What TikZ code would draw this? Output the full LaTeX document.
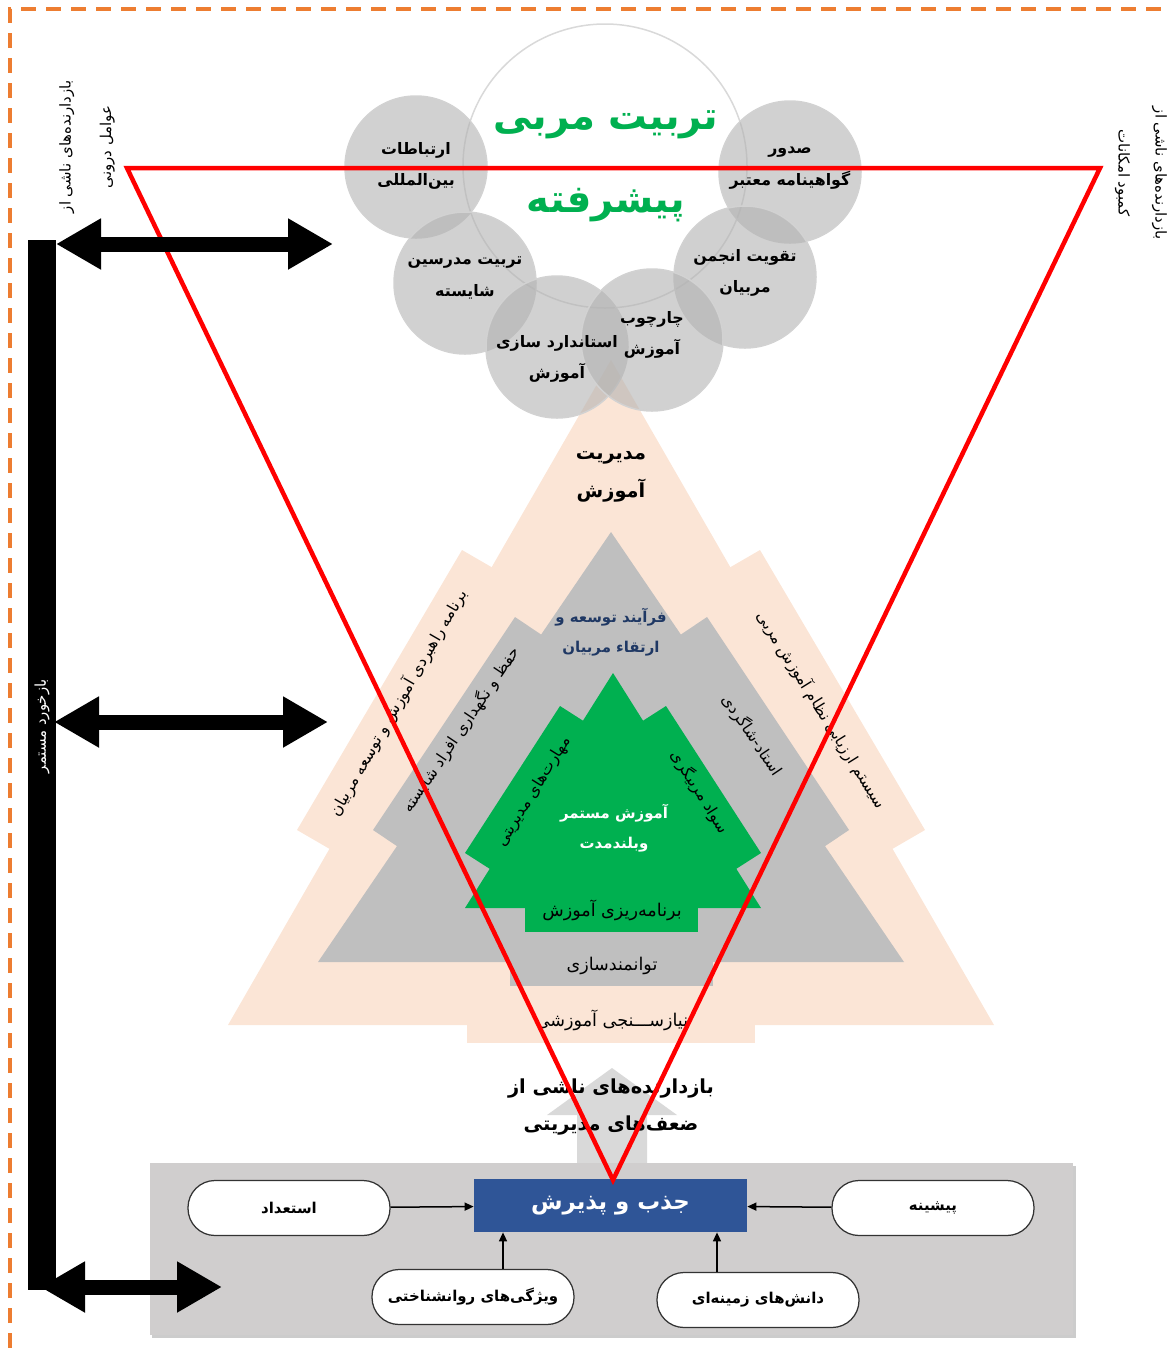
\documentclass[tikz,border=0pt]{standalone}
\usepackage{fontspec}
\usepackage{tikz}
\usetikzlibrary{arrows.meta,shadows}
\newfontfamily\fafont[Script=Arabic]{DejaVu Sans}
\TeXXeTstate=1
\newcommand{\fatxt}[1]{\beginR#1\endR}
\definecolor{peach}{HTML}{FBE5D6}
\definecolor{midgray}{HTML}{BFBFBF}
\definecolor{treegreen}{HTML}{00B050}
\definecolor{navy}{HTML}{1F3864}
\definecolor{panelgray}{HTML}{D0CECE}
\definecolor{boxblue}{HTML}{2F5597}
\definecolor{dashorange}{HTML}{ED7D31}

\begin{document}
\begin{tikzpicture}[x=0.2mm, y=-0.2mm,
    every node/.style = {inner sep=0pt, align=center, font=\fafont},
    bigbubble/.style = {circle, minimum size=56.8mm, fill=white, draw=gray!30, line width=0.3mm},
    bubble/.style = {circle, minimum size=28.4mm, fill=gray!60, fill opacity=0.6, draw=gray!35, line width=0.3mm},
    bubtext/.style = {font=\fafont\bfseries\fontsize{9}{18}\selectfont},
    titletext/.style = {font=\fafont\bfseries\fontsize{22}{47}\selectfont, text=treegreen},
    headtext/.style = {font=\fafont\bfseries\fontsize{11}{21.5}\selectfont},
    smallbold/.style = {font=\fafont\bfseries\fontsize{8.5}{17}\selectfont},
    leveltext/.style = {font=\fafont\fontsize{10}{12}\selectfont},
    bandtext/.style = {font=\fafont\fontsize{9}{11}\selectfont},
    sidetext/.style = {font=\fafont\fontsize{8.5}{#1}\selectfont},
    fbarrow/.style = {line width=3mm, {Triangle[length=9mm,width=9.6mm]}-{Triangle[length=9mm,width=9.6mm]}},
    linkarrow/.style = {line width=0.3mm, -{Triangle[length=1.8mm,width=1.6mm]}},
    panel/.style = {fill=panelgray, minimum width=184.6mm, minimum height=34.4mm,
                    drop shadow={shadow xshift=0.5mm, shadow yshift=-0.5mm, opacity=0.4}},
    bluebox/.style = {fill=boxblue, minimum width=54.6mm, minimum height=10.6mm, text=white,
                      font=\fafont\bfseries\fontsize{13}{15}\selectfont},
    pill/.style = {draw=black!80, line width=0.25mm, fill=white, rounded corners=5.4mm,
                   minimum width=40.4mm, minimum height=11mm,
                   font=\fafont\bfseries\fontsize{8.5}{10}\selectfont}]

  \useasboundingbox (0,0) rectangle (1168,1348);

  % outer frame
  \draw[dashorange, line width=0.8mm, dash pattern=on 3mm off 2mm] (10,1348) -- (10,9) -- (1168,9);

  % outer tree
  \fill[peach] (611,360) -- (228,1025) -- (994,1025) -- cycle;
  \fill[peach] (462,550) -- (297,830) -- (366,870) -- (531,590) -- cycle;
  \fill[peach] (760,550) -- (925,830) -- (856,870) -- (691,590) -- cycle;
  \fill[peach] (467,1020) rectangle (755,1043);

  % middle tree
  \fill[midgray] (611,532) -- (318,962) -- (904,962) -- cycle;
  \fill[midgray] (515,617) -- (373,830) -- (431,869) -- (573,656) -- cycle;
  \fill[midgray] (707,617) -- (849,830) -- (791,869) -- (649,656) -- cycle;
  \fill[midgray] (510,955) rectangle (713,986);

  % inner tree
  \fill[treegreen] (613,673) -- (465,908) -- (761,908) -- cycle;
  \fill[treegreen] (560,706) -- (465,853) -- (515,885) -- (610,738) -- cycle;
  \fill[treegreen] (666,706) -- (761,853) -- (711,885) -- (616,738) -- cycle;
  \fill[treegreen] (525,900) rectangle (698,932);

  % bubbles
  \node[bigbubble] (core) at (605,166) {};
  \node[bubble] (b1) at (416,167) {};
  \node[bubble] (b2) at (790,172) {};
  \node[bubble] (b3) at (465,283) {};
  \node[bubble] (b4) at (745,277) {};
  \node[bubble] (b5) at (557,347) {};
  \node[bubble] (b6) at (652,340) {};

  \node[titletext] at (606,166) {\fatxt{تربیت مربی}\\\fatxt{پیشرفته}};
  \node[bubtext] at ([yshift=0.2mm]b1) {\fatxt{ارتباطات}\\\fatxt{بین‌المللی}};
  \node[bubtext] at ([yshift=0.8mm]b2) {\fatxt{صدور}\\\fatxt{گواهینامه معتبر}};
  \node[bubtext] at ([yshift=1mm]b3) {\fatxt{تربیت مدرسین}\\\fatxt{شایسته}};
  \node[bubtext] at ([yshift=0.8mm]b4) {\fatxt{تقویت انجمن}\\\fatxt{مربیان}};
  \node[bubtext] at ([yshift=-2.4mm]b5) {\fatxt{استاندارد سازی}\\\fatxt{آموزش}};
  \node[bubtext] at ([yshift=1mm]b6) {\fatxt{چارچوب}\\\fatxt{آموزش}};

  % tree labels
  \node[headtext] (mgmt) at (611,477) {\fatxt{مدیریت}\\\fatxt{آموزش}};
  \node[smallbold, text=navy] (dev) at (611,632) {\fatxt{فرآیند توسعه و}\\\fatxt{ارتقاء مربیان}};
  \node[smallbold, text=white] (cont) at (614,828) {\fatxt{آموزش مستمر}\\\fatxt{وبلندمدت}};
  \node[leveltext] (plan) at (612,910) {\fatxt{برنامه‌ریزی آموزش}};
  \node[leveltext] (empow) at (612,966) {\fatxt{توانمندسازی}};
  \node[leveltext] (needs) at (612,1020) {\fatxt{نیازســـنجی آموزشی}};

  \node[bandtext, rotate=60] at (398,703) {\fatxt{برنامه راهبردی آموزش و توسعه مربیان}};
  \node[bandtext, rotate=56] at (461,730) {\fatxt{حفظ و نگهداری افراد شایسته}};
  \node[bandtext, rotate=58] at (534,792) {\fatxt{مهارت‌های مدیریتی}};
  \node[bandtext, rotate=-58] at (822,710) {\fatxt{سیستم ارزیابی نظام آموزش مربی}};
  \node[bandtext, rotate=-56] at (752,735) {\fatxt{استاد-شاگردی}};
  \node[bandtext, rotate=-58] at (700,792) {\fatxt{سواد مربیگری}};

  % bottom block
  \fill[gray!30] (612,1068) -- (677,1115) -- (647,1115) -- (647,1165)
                 -- (577,1165) -- (577,1115) -- (547,1115) -- cycle;
  \node[headtext] (weak) at (611,1107) {\fatxt{بازدارنده‌های ناشی از}\\\fatxt{ضعف‌های مدیریتی}};

  \node[panel] (base) at (611.5,1249) {};
  \node[bluebox] (jazb) at (610.5,1205.5) {\fatxt{جذب و پذیرش}};
  \node[pill] (talent) at (289,1208) {\fatxt{استعداد}};
  \node[pill] (record) at (933,1208) {\fatxt{پیشینه}};
  \node[pill] (psych) at (473,1297) {\fatxt{ویژگی‌های روانشناختی}};
  \node[pill] (know) at (758,1300) {\fatxt{دانش‌های زمینه‌ای}};

  \draw[linkarrow] (talent) -- (jazb);
  \draw[linkarrow] (record) -- (jazb);
  \draw[linkarrow] (503,0 |- psych.north) -- (503,0 |- jazb.south);
  \draw[linkarrow] (717,0 |- know.north) -- (717,0 |- jazb.south);

  % red triangle
  \draw[red, line width=0.9mm] (127,168) -- (1100,168) -- (613,1180) -- cycle;

  % side labels
  \node[sidetext=23, rotate=90] (inner) at (87,147) {\fatxt{بازدارنده‌های ناشی از}\\\fatxt{عوامل درونی}};
  \node[sidetext=21, rotate=-90] (lack) at (1141,173) {\fatxt{بازدارنده‌های ناشی از}\\\fatxt{کمبود امکانات}};

  % feedback bar
  \fill[black] (28,240) rectangle (56,1290);
  \node[sidetext=11, text=white, rotate=90] (fb) at (42,726) {\fatxt{بازخورد مستمر}};

  \coordinate (top l) at (56,244);
  \coordinate (top r) at (333,244);
  \coordinate (mid l) at (54,722);
  \coordinate (mid r) at (328,722);
  \coordinate (low l) at (40,1287);
  \coordinate (low r) at (222,1287);
  \draw[fbarrow] (top l) -- (top r);
  \draw[fbarrow] (mid l) -- (mid r);
  \draw[fbarrow] (low l) -- (low r);
\end{tikzpicture}
\end{document}
